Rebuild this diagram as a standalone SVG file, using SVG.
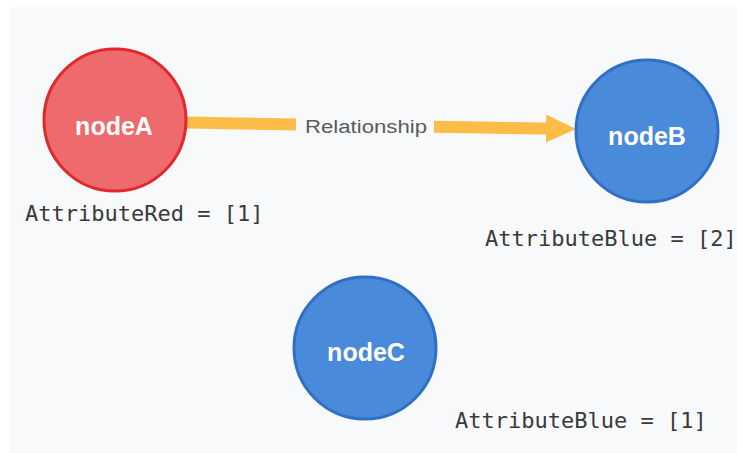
<svg xmlns="http://www.w3.org/2000/svg" width="737" height="453" viewBox="0 0 737 453">
  <style>
    .node-red { fill: #ef6a6c; stroke: #e2282d; stroke-width: 3; }
    .node-blue { fill: #4a8ada; stroke: #2f70c4; stroke-width: 3; }
    .node-label { font-family: "Liberation Sans", Arial, sans-serif; font-weight: bold; font-size: 25px; fill: #ffffff; text-anchor: middle; }
    .attr { font-family: "DejaVu Sans Mono", "Liberation Mono", monospace; font-size: 22px; fill: #3a3a3a; }
    .edge { stroke: #fbbd48; stroke-width: 12; fill: none; }
    .edge-label { font-family: "Liberation Sans", Arial, sans-serif; font-size: 18px; fill: #5a5a5a; text-anchor: middle; }
  </style>
  <defs>
    <marker id="arrow" markerUnits="userSpaceOnUse" markerWidth="30" markerHeight="30" refX="0" refY="15" orient="auto">
      <polygon points="0,1 30,15 0,29" fill="#fbbd48"/>
    </marker>
  </defs>

  <!-- canvas -->
  <rect x="0" y="0" width="737" height="453" fill="#ffffff"/>
  <rect x="9" y="7" width="728" height="446" fill="#f8f9fb"/>

  <!-- connectors -->
  <g id="connectors">
    <g id="edge-nodeA-nodeB">
      <line class="edge" x1="186" y1="122.6" x2="546" y2="128.6" marker-end="url(#arrow)"/>
      <rect x="296" y="112" width="138" height="28" fill="#f8f9fb"/>
      <text class="edge-label" x="366" y="133" textLength="122" lengthAdjust="spacingAndGlyphs">Relationship</text>
    </g>
  </g>

  <!-- nodes -->
  <g id="nodeA">
    <circle class="node-red" cx="115" cy="120" r="71"/>
    <text class="node-label" x="114" y="135">nodeA</text>
    <text class="attr" x="25" y="221">AttributeRed = [1]</text>
  </g>
  <g id="nodeB">
    <circle class="node-blue" cx="647" cy="131" r="71"/>
    <text class="node-label" x="647" y="145">nodeB</text>
    <text class="attr" x="485" y="246">AttributeBlue = [2]</text>
  </g>
  <g id="nodeC">
    <circle class="node-blue" cx="365" cy="348" r="71"/>
    <text class="node-label" x="366" y="361">nodeC</text>
    <text class="attr" x="455" y="428">AttributeBlue = [1]</text>
  </g>
</svg>
